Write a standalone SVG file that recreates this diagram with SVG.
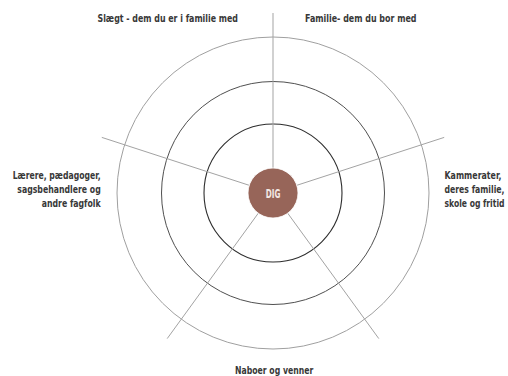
<svg xmlns="http://www.w3.org/2000/svg" width="508" height="376" viewBox="0 0 508 376">
<style>
.lbl{font-family:"Liberation Sans Narrow","DejaVu Sans Condensed","Liberation Sans",sans-serif;font-weight:bold;font-size:11px;fill:#383838}
.end{text-anchor:end}
.spoke{stroke:#a3a3a3;stroke-width:1;fill:none}
.ring{fill:none}
</style>
<rect width="508" height="376" fill="#ffffff"/>
<g id="rings">
<circle class="ring" cx="273" cy="193" r="156" stroke="#a0a0a0" stroke-width="1"/>
<circle class="ring" cx="273" cy="193" r="111.5" stroke="#505050" stroke-width="1"/>
<circle class="ring" cx="273" cy="193" r="69" stroke="#2e2e2e" stroke-width="1.1"/>
</g>
<g id="connectors">
<line class="spoke" x1="273" y1="168" x2="273" y2="13"/>
<line class="spoke" x1="296.8" y1="185.3" x2="444.2" y2="137.4"/>
<line class="spoke" x1="249.2" y1="185.3" x2="101.8" y2="137.4"/>
<line class="spoke" x1="287.7" y1="213.2" x2="378.8" y2="338.6"/>
<line class="spoke" x1="258.3" y1="213.2" x2="167.2" y2="338.6"/>
</g>
<g id="node-dig">
<circle cx="273" cy="193" r="25" fill="#976559" stroke="#ffffff" stroke-width="0.8"/>
<text x="273" y="198.3" text-anchor="middle" font-family="'Liberation Sans Narrow','DejaVu Sans Condensed',sans-serif" font-weight="bold" font-size="12.5" fill="#f3e7e3" textLength="14.7" lengthAdjust="spacingAndGlyphs">DIG</text>
</g>
<g id="label-slaegt">
<text class="lbl" x="97.5" y="22.3" textLength="140.5" lengthAdjust="spacingAndGlyphs">Slægt - dem du er i familie med</text>
</g>
<g id="label-familie">
<text class="lbl" x="305" y="22.3" textLength="111.5" lengthAdjust="spacingAndGlyphs">Familie- dem du bor med</text>
</g>
<g id="label-kammerater">
<text class="lbl end" x="501.5" y="179.3" textLength="57" lengthAdjust="spacingAndGlyphs">Kammerater,</text>
<text class="lbl end" x="504.5" y="193.3" textLength="60" lengthAdjust="spacingAndGlyphs">deres familie,</text>
<text class="lbl end" x="504.5" y="207.3" textLength="60" lengthAdjust="spacingAndGlyphs">skole og fritid</text>
</g>
<g id="label-laerere">
<text class="lbl end" x="100.7" y="179.3" textLength="88" lengthAdjust="spacingAndGlyphs">Lærere, pædagoger,</text>
<text class="lbl end" x="100.7" y="193.3" textLength="83.4" lengthAdjust="spacingAndGlyphs">sagsbehandlere og</text>
<text class="lbl end" x="100.7" y="207.3" textLength="59" lengthAdjust="spacingAndGlyphs">andre fagfolk</text>
</g>
<g id="label-naboer">
<text class="lbl" x="235" y="373.8" textLength="78.3" lengthAdjust="spacingAndGlyphs">Naboer og venner</text>
</g>
</svg>
